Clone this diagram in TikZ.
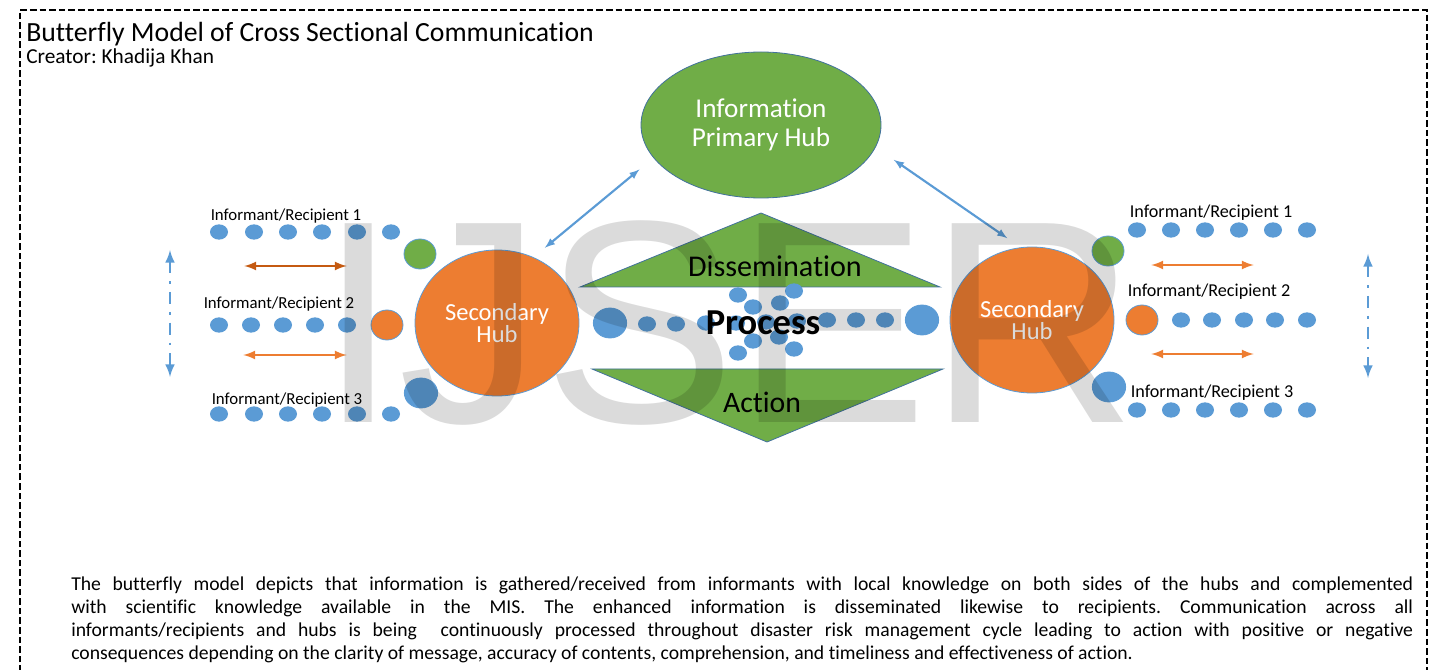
\documentclass[tikz,border=0pt]{standalone}
\usepackage{fontspec}
\setmainfont{Carlito}[Ligatures=NoCommon]
\newfontfamily\markfont{Liberation Sans}
\usetikzlibrary{shapes,arrows,positioning}
\frenchspacing

\definecolor{hubgreen}{HTML}{70AD47}
\definecolor{huborange}{HTML}{ED7D31}
\definecolor{dotblue}{HTML}{5B9BD5}
\definecolor{lineblue}{HTML}{41719C}
\definecolor{rustorange}{HTML}{C55A11}

\tikzset{
  frame/.style={line width=1.5pt, dash pattern=on 5pt off 2.2pt},
  hub/.style={ellipse, draw=lineblue, line width=0.6pt, text=white, align=center, inner sep=0pt},
  sechub/.style={hub, fill=huborange, draw=dotblue, minimum width=123pt, minimum height=109.5pt,
    font=\fontsize{18.4}{16.8}\selectfont},
  tri/.style={fill=hubgreen, draw=lineblue, line width=0.6pt},
  dot/.style={ellipse, fill=dotblue, inner sep=0pt, minimum width=13.5pt, minimum height=11.5pt},
  bigdot/.style={ellipse, draw=dotblue, line width=0.6pt, inner sep=0pt, minimum width=25pt, minimum height=22.5pt},
  sidelabel/.style={inner sep=0pt, font=\fontsize{12.6}{14}\selectfont},
  farlabel/.style={inner sep=0pt, font=\fontsize{13.6}{15}\selectfont},
  swap/.style={latex-latex, line width=2pt, shorten <=1pt, shorten >=1pt},
  updown/.style={latex-latex, dotblue, line width=2.2pt, dash pattern=on 9pt off 6pt on 2pt off 6pt},
  hublink/.style={latex-latex, dotblue, line width=1.6pt},
  watermark/.style={inner sep=0pt, opacity=0.14, text=black, font=\markfont\fontsize{216.75}{220}\selectfont}
}

\begin{document}
\begin{tikzpicture}[x=0.75pt,y=-0.75pt]
\useasboundingbox (0,0) rectangle (1429,670);
\draw[frame] (20,672) -- (20,10) -- (1427,10) -- (1427,672);

\node[anchor=base west, inner sep=0pt, font=\fontsize{20.8}{24}\selectfont] (title) at (26,42) {Butterfly Model of Cross Sectional Communication};
\node[anchor=base west, inner sep=0pt, font=\fontsize{16}{19}\selectfont] (creator) at (26,64) {Creator: Khadija Khan};

% hubs
\node[hub, fill=hubgreen, minimum width=180pt, minimum height=109.5pt, font=\fontsize{20.4}{22}\selectfont] (prim) at (761,125) {Information\\Primary Hub};
\node[sechub] (secL) at (497,323) {Secondary\\Hub};
\node[sechub] (secR) at (1032,320) {Secondary\\Hub};

% dissemination / action
\filldraw[tri] (580,287) -- (761,213) -- (940,287) -- cycle;
\filldraw[tri] (592,369) -- (943,369) -- (767,442) -- cycle;
\node[font=\fontsize{22.6}{24}\selectfont] (diss) at (775,266) {Dissemination};
\node[font=\fontsize{22.3}{24}\selectfont] (act) at (762,402) {Action};

% process dots
\foreach \x/\y [count=\i] in {647/324,676/324,706/323,736/323,766/322,797/321,827/320,856/320,885/320}
  \node[dot] (pr\i) at (\x,\y) {};
\foreach \x/\y [count=\i] in {738/295,794/291,753/307,780/303,753/341,779/337,738/353,794/349}
  \node[dot] (pc\i) at (\x,\y) {};
\node[bigdot, fill=dotblue] (pbl) at (610,323) {};
\node[bigdot, fill=dotblue] (pbr) at (922,320) {};
\node[font=\bfseries\fontsize{27.4}{30}\selectfont] (proc) at (763,323) {Process};

% left wing
\foreach \x [count=\i] in {219,254,288,322,357,391} {
  \node[dot] (la\i) at (\x,232) {};
  \node[dot] (lc\i) at (\x,414) {};
}
\foreach \x [count=\i] in {219,251,283,315,347}
  \node[dot] (lb\i) at (\x,325) {};
\node[bigdot, fill=hubgreen, minimum width=24pt] (lgreen) at (420,254) {};
\node[bigdot, fill=huborange, minimum width=24pt] (lorange) at (387,325) {};
\node[bigdot, fill=dotblue] (lblue) at (421,393) {};
\node[sidelabel] (lt1) at (286,216) {Informant/Recipient 1};
\node[sidelabel] (lt2) at (279,304) {Informant/Recipient 2};
\node[sidelabel] (lt3) at (287,400) {Informant/Recipient 3};
\coordinate (la-w) at (243,266);
\coordinate (la-e) at (348,266);
\coordinate (lb-w) at (242,355);
\coordinate (lb-e) at (348,355);
\coordinate (lv-n) at (170,250);
\coordinate (lv-s) at (170,377);
\draw[swap, rustorange] (la-w) -- (la-e);
\draw[swap, huborange] (lb-w) -- (lb-e);
\draw[updown] (lv-n) -- (lv-s);

% right wing
\foreach \x [count=\i] in {1137,1171,1205,1239,1273,1307} {
  \node[dot] (ra\i) at (\x,230) {};
  \node[dot] (rc\i) at (\x,410) {};
}
\foreach \x [count=\i] in {1181,1212,1244,1275,1307}
  \node[dot] (rb\i) at (\x,320) {};
\node[bigdot, fill=hubgreen, minimum width=24pt] (rgreen) at (1108,251) {};
\node[bigdot, fill=huborange, minimum width=24pt] (rorange) at (1142,320) {};
\node[bigdot, fill=dotblue] (rblue) at (1109,387) {};
\node[farlabel] (rt1) at (1211,213) {Informant/Recipient 1};
\node[farlabel] (rt2) at (1209,292) {Informant/Recipient 2};
\node[farlabel] (rt3) at (1212,393) {Informant/Recipient 3};
\coordinate (ra-w) at (1150,265);
\coordinate (ra-e) at (1255,265);
\coordinate (rb-w) at (1150,354);
\coordinate (rb-e) at (1255,354);
\coordinate (rv-n) at (1368,254);
\coordinate (rv-s) at (1368,378);
\draw[swap, huborange] (ra-w) -- (ra-e);
\draw[swap, huborange] (rb-w) -- (rb-e);
\draw[updown] (rv-n) -- (rv-s);

% hub links
\draw[hublink, shorten <=11pt, shorten >=13.5pt] (secL.61) -- (prim.197);
\draw[hublink, shorten <=16.5pt, shorten >=12pt] (prim.349) -- (secR.99);

% caption
\node[anchor=north west, inner sep=0pt, text width=1006.5pt, align=justify,
  font=\fontsize{14.75}{17.25}\selectfont] (caption) at (71,577)
  {The butterfly model depicts that information is gathered/received from informants with local knowledge on both sides of the hubs and complemented\linebreak
  with scientific knowledge available in the MIS. The enhanced information is disseminated likewise to recipients. Communication across all\linebreak
  informants/recipients and hubs is being\ \ continuously processed throughout disaster risk management cycle leading to action with positive or negative\linebreak
  consequences depending on the clarity of message, accuracy of contents, comprehension, and timeliness and effectiveness of action.};

% watermark
\node[watermark, anchor=base west] (mark) at (318,422) {IJSER};
\end{tikzpicture}
\end{document}
